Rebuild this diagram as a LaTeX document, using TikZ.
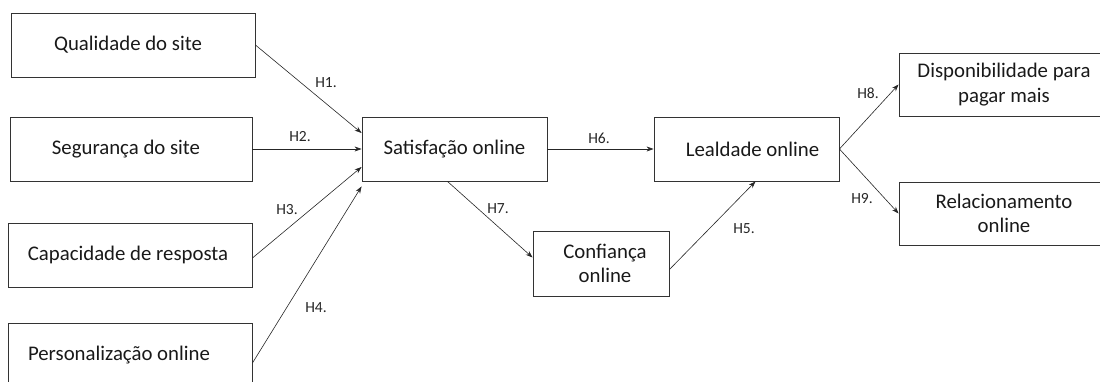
\documentclass[tikz,border=0pt]{standalone}
\usepackage{fontspec}
\setmainfont{Carlito}
\usetikzlibrary{arrows.meta, positioning, calc}

\tikzstyle{construct} = [rectangle, draw=black!80, line width=0.9pt, minimum height=64pt, align=center, font=\fontsize{20.8}{24.5}\selectfont, text=black!90, inner sep=0pt]
\tikzstyle{hyp} = [font=\fontsize{15.5}{18}\selectfont, text=black!85, inner sep=1pt]
\tikzstyle{arrow} = [-{Stealth[length=7pt, width=5pt]}, line width=0.6pt, black!85]

\begin{document}
\begin{tikzpicture}[x=1pt, y=-1pt]
    \useasboundingbox (0,0) rectangle (1100,382);
    \begin{scope}
    \clip (0,0) rectangle (1100,382);

    % Antecedents
    \node[construct, minimum width=244pt] (qual) at (133, 45) {Qualidade do site\hspace*{10pt}};
    \node[construct, minimum width=242pt] (seg) at (131, 149) {Segurança do site\hspace*{10pt}};
    \node[construct, minimum width=244pt] (cap) at (130, 255) {Capacidade de resposta\hspace*{4pt}};
    \node[construct, minimum width=244pt] (pers) at (130, 355) {Personalização online\hspace*{22pt}};

    % Mediators
    \node[construct, minimum width=185pt] (sat) at (454.5, 149) {Satisfação online};
    \node[construct, minimum width=185pt] (leal) at (746.5, 149) {\hspace*{12pt}Lealdade online};
    \node[construct, minimum width=136pt, minimum height=65pt] (conf) at (601, 263.5) {\hspace*{8pt}Confiança\\\hspace*{8pt}online};

    % Outcomes
    \node[construct, minimum width=210pt, minimum height=63pt] (disp) at (1004, 84.5) {Disponibilidade para\\pagar mais};
    \node[construct, minimum width=210pt, minimum height=63pt] (rel) at (1004, 213.5) {Relacionamento\\online};
    \end{scope}

    % Paths
    \draw[arrow] (qual.east) -- ([yshift=16pt]sat.west);
    \draw[arrow] (seg.east) -- (sat.west);
    \draw[arrow] ([yshift=-3pt]cap.east) -- ([yshift=-18pt]sat.west);
    \draw[arrow] ([yshift=-8pt]pers.east) -- ([yshift=-5pt]sat.south west);
    \draw[arrow] (sat.east) -- (leal.west);
    \draw[arrow] ([xshift=-7pt]sat.south) -- ([yshift=6pt]conf.west);
    \draw[arrow] ([yshift=-6pt]conf.east) -- ([xshift=9pt]leal.south);
    \draw[arrow] (leal.east) -- (disp.west);
    \draw[arrow] (leal.east) -- (rel.west);

    % Hypothesis labels
    \node[hyp] (h1) at (326, 83) {H1.};
    \node[hyp] (h2) at (300, 137) {H2.};
    \node[hyp] (h3) at (287, 210) {H3.};
    \node[hyp] (h4) at (316, 308) {H4.};
    \node[hyp] (h5) at (744, 229) {H5.};
    \node[hyp] (h6) at (599, 138) {H6.};
    \node[hyp] (h7) at (498, 209) {H7.};
    \node[hyp] (h8) at (868, 93) {H8.};
    \node[hyp] (h9) at (862, 199) {H9.};
\end{tikzpicture}
\end{document}
